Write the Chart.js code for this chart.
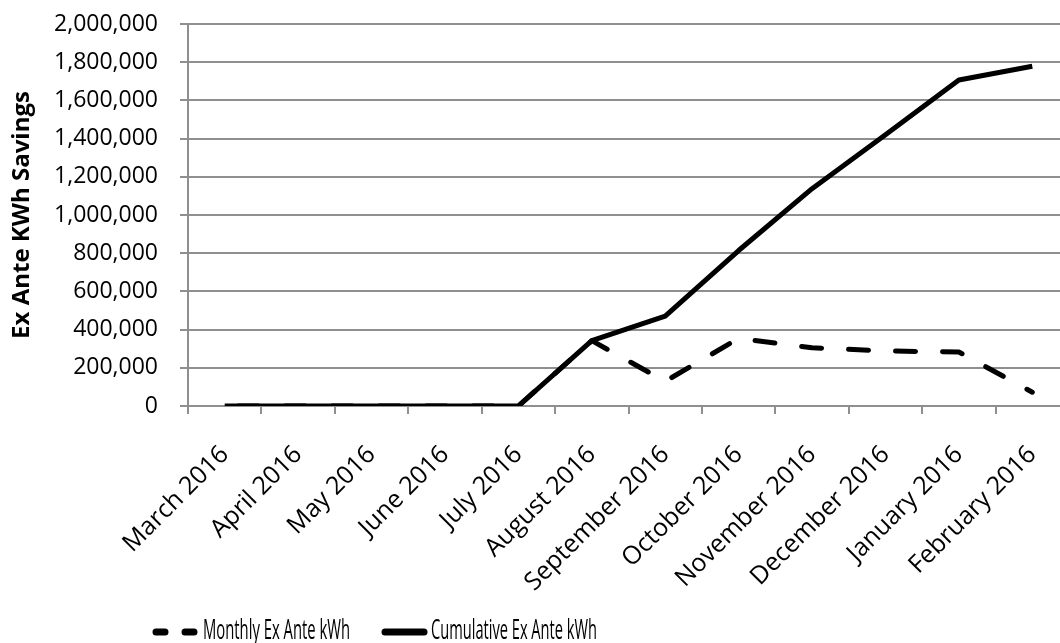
<!DOCTYPE html>
<html>
<head>
<meta charset="utf-8">
<script src="https://cdn.jsdelivr.net/npm/chart.js@4.4.1/dist/chart.umd.min.js"></script>
<style>
  html, body { margin: 0; padding: 0; background: #fff; }
  #wrap { position: relative; width: 1060px; height: 643px; overflow: hidden; }
  #c { position: absolute; left: 0; top: 0; }
  #swatches { position: absolute; left: 0; top: 0; pointer-events: none; }
  .leg {
    position: absolute; font-family: "Open Sans", sans-serif; font-size: 27px;
    line-height: 1; color: #000; white-space: nowrap; transform-origin: 0 0;
  }
</style>
</head>
<body>
<div id="wrap">
  <canvas id="c" width="1080" height="643"></canvas>
  <svg id="swatches" width="1060" height="643">
    <line x1="156" y1="632" x2="195" y2="632" stroke="#000" stroke-width="7"
          stroke-linecap="round" stroke-dasharray="9 20"/>
    <line x1="385" y1="632" x2="424" y2="632" stroke="#000" stroke-width="7"
          stroke-linecap="round"/>
  </svg>
  <div class="leg" id="legMonthly" data-w="147" style="left:203px;top:615px;"></div>
  <div class="leg" id="legCumulative" data-w="166" style="left:431px;top:615px;"></div>
</div>
<script>
// Months of the reporting year
const months = [
  'March 2016', 'April 2016', 'May 2016', 'June 2016', 'July 2016', 'August 2016',
  'September 2016', 'October 2016', 'November 2016', 'December 2016',
  'January 2016', 'February 2016'
];

// Savings recorded in each month (kWh)
const monthlySavings = [0, 0, 0, 0, 0, 342000, 129000, 354000, 305000, 288000, 283000, 72000];

// Running total of savings (kWh)
const cumulativeSavings = [0, 0, 0, 0, 0, 342000, 471000, 814000, 1138000, 1420000, 1707000, 1779000];

const seriesNames = ['Monthly Ex Ante kWh', 'Cumulative Ex Ante kWh'];
const axisTitle = 'Ex Ante KWh Savings';

const gridGray = '#8f8f8f';

// Legend labels (HTML), squeezed to their set widths
document.getElementById('legMonthly').textContent = seriesNames[0];
document.getElementById('legCumulative').textContent = seriesNames[1];
document.querySelectorAll('.leg').forEach(el => {
  const natural = el.getBoundingClientRect().width;
  el.style.transform = 'scaleX(' + (Number(el.dataset.w) / natural) + ')';
});

new Chart(document.getElementById('c'), {
  type: 'line',
  data: {
    labels: months,
    datasets: [
      {
        label: seriesNames[0],
        data: monthlySavings,
        borderColor: '#000',
        borderWidth: 5,
        borderDash: [20, 27],
        borderDashOffset: 33.5,
        borderCapStyle: 'round',
        borderJoinStyle: 'round',
        pointRadius: 0,
        tension: 0,
        fill: false
      },
      {
        label: seriesNames[1],
        data: cumulativeSavings,
        borderColor: '#000',
        borderWidth: 5,
        borderCapStyle: 'butt',
        borderJoinStyle: 'round',
        pointRadius: 0,
        tension: 0,
        fill: false
      }
    ]
  },
  options: {
    responsive: false,
    animation: false,
    devicePixelRatio: 1,
    layout: { padding: { top: 24, right: 11, bottom: 0, left: 0 } },
    plugins: {
      legend: { display: false },
      tooltip: { enabled: false }
    },
    scales: {
      x: {
        offset: true,
        grid: {
          offset: true,
          drawOnChartArea: false,
          drawTicks: true,
          tickLength: 8,
          color: gridGray,
          lineWidth: 2
        },
        border: { display: true, color: gridGray, width: 2 },
        ticks: {
          autoSkip: false,
          minRotation: 45,
          maxRotation: 45,
          padding: 26,
          color: '#000',
          font: { family: 'Open Sans', size: 25 }
        },
        afterFit(scale) {
          scale.height = 237;
          scale.paddingLeft = 0;
          scale.paddingRight = 0;
        }
      },
      y: {
        min: 0,
        max: 2000000,
        grid: {
          drawTicks: true,
          tickLength: 8,
          color: gridGray,
          lineWidth: 2
        },
        border: { display: true, color: gridGray, width: 2 },
        ticks: {
          stepSize: 200000,
          padding: 22,
          color: '#000',
          font: { family: 'Open Sans', size: 23 },
          callback: v => v.toLocaleString('en-US')
        },
        title: {
          display: true,
          text: axisTitle,
          color: '#000',
          font: { family: 'Open Sans', size: 24, weight: 'bold' },
          padding: { top: 8, bottom: 0 }
        },
        afterFit(scale) {
          scale.width = 188;
          scale.paddingTop = 0;
          scale.paddingBottom = 0;
        }
      }
    }
  }
});
</script>
</body>
</html>
